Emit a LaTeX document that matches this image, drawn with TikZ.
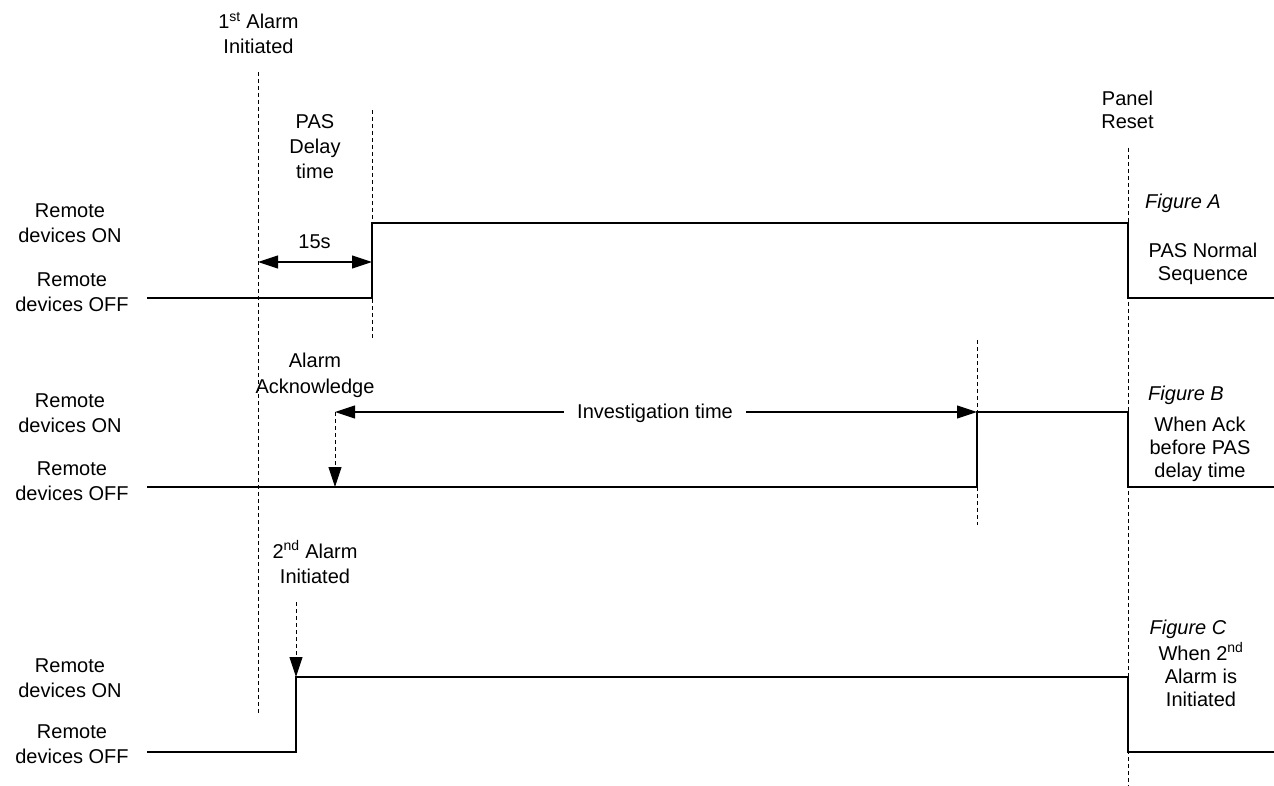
\documentclass[tikz,border=0pt]{standalone}
\usepackage{fontspec}
\setmainfont{Liberation Sans}
\usetikzlibrary{arrows.meta}
\begin{document}
\begin{tikzpicture}[x=1pt,y=-1pt,
  sig/.style={line width=1.1pt,black},
  guide/.style={line width=0.9pt,dash pattern=on 4pt off 3pt,black},
  tip/.style={-{Triangle[length=20pt,width=13pt]}},
  dimarrow/.style={line width=1.1pt,{Triangle[length=20pt,width=13pt]}-{Triangle[length=20pt,width=13pt]}},
  lbl/.style={inner sep=0pt,align=center,anchor=base,font=\fontsize{20}{25}\selectfont},
  rlbl/.style={inner sep=0pt,align=center,anchor=base,font=\fontsize{20}{23}\selectfont},
  figlbl/.style={inner sep=0pt,anchor=base,font=\fontsize{20}{23}\selectfont\itshape}]
\useasboundingbox (0,0) rectangle (1274,786);
\fill[white] (0,0) rectangle (1274,786);

% coordinates for waveforms
\coordinate (a0) at (147,298); \coordinate (a1) at (372,298); \coordinate (a2) at (372,223);
\coordinate (a3) at (1128,223); \coordinate (a4) at (1128,298); \coordinate (a5) at (1274,298);
\coordinate (b0) at (147,487); \coordinate (b1) at (977,487); \coordinate (b2) at (977,412);
\coordinate (b3) at (1128,412); \coordinate (b4) at (1128,487); \coordinate (b5) at (1274,487);
\coordinate (c0) at (147,752); \coordinate (c1) at (296,752); \coordinate (c2) at (296,677);
\coordinate (c3) at (1128,677); \coordinate (c4) at (1128,752); \coordinate (c5) at (1274,752);

% guide lines
\coordinate (g1t) at (258,72);   \coordinate (g1b) at (258,715);
\coordinate (g2t) at (372,110);  \coordinate (g2b) at (372,338);
\coordinate (g3t) at (977,340);  \coordinate (g3b) at (977,525);
\coordinate (g4t) at (1128,148); \coordinate (g4b) at (1128,786);
\draw[guide] (g1t) -- (g1b);
\draw[guide] (g2t) -- (g2b);
\draw[guide] (g3t) -- (g3b);
\draw[guide] (g4t) -- (g4b);

% waveforms
\draw[sig] (a0) -- (a1) -- (a2) -- (a3) -- (a4) -- (a5);
\draw[sig] (b0) -- (b1) -- (b2) -- (b3) -- (b4) -- (b5);
\draw[sig] (c0) -- (c1) -- (c2) -- (c3) -- (c4) -- (c5);

% 15s dimension
\coordinate (d1) at (258,262); \coordinate (d2) at (372,262);
\draw[dimarrow] (d1) -- (d2);
\node[lbl] (t15) at (314.5,249) {15s};

% investigation time
\coordinate (i1) at (335,412); \coordinate (i2) at (977,412);
\draw[dimarrow] (i1) -- (i2);
\node[lbl,fill=white,inner xsep=13pt,inner ysep=4pt] (inv) at (655,418) {Investigation time};

% acknowledge arrow
\coordinate (k1) at (335,487);
\draw[guide,tip] (i1) -- (k1);

% 2nd alarm arrow
\coordinate (s1) at (296,602);
\draw[guide,tip] (s1) -- (c2);

% top labels (anchor = baseline of last line)
\node[lbl] (al1) at (258.5,54) {1\textsuperscript{st} Alarm\\Initiated};
\node[lbl] (pas) at (315,179) {PAS\\Delay\\time};
\node[rlbl] (rst) at (1127.5,129) {Panel\\Reset};
\node[lbl,font=\fontsize{20}{26}\selectfont] (ack) at (315,393) {Alarm\\Acknowledge};
\node[lbl] (al2) at (315,583) {2\textsuperscript{nd} Alarm\\Initiated};

% left labels
\node[lbl] (aon) at (70,243) {Remote\\devices ON};
\node[lbl] (aoff) at (72,312) {Remote\\devices OFF};
\node[lbl] (bon) at (70,432) {Remote\\devices ON};
\node[lbl] (boff) at (72,500) {Remote\\devices OFF};
\node[lbl] (con) at (70,697) {Remote\\devices ON};
\node[lbl] (coff) at (72,763) {Remote\\devices OFF};

% right labels
\node[figlbl] (fa) at (1183,209) {Figure A};
\node[rlbl] (fat) at (1203,280) {PAS Normal\\Sequence};
\node[figlbl] (fb) at (1186,400) {Figure B};
\node[rlbl] (fbt) at (1200,477) {When Ack\\before PAS\\delay time};
\node[figlbl] (fc) at (1188,634) {Figure C};
\node[rlbl] (fct) at (1201,706) {When 2\textsuperscript{nd}\\Alarm is\\Initiated};
\end{tikzpicture}
\end{document}
